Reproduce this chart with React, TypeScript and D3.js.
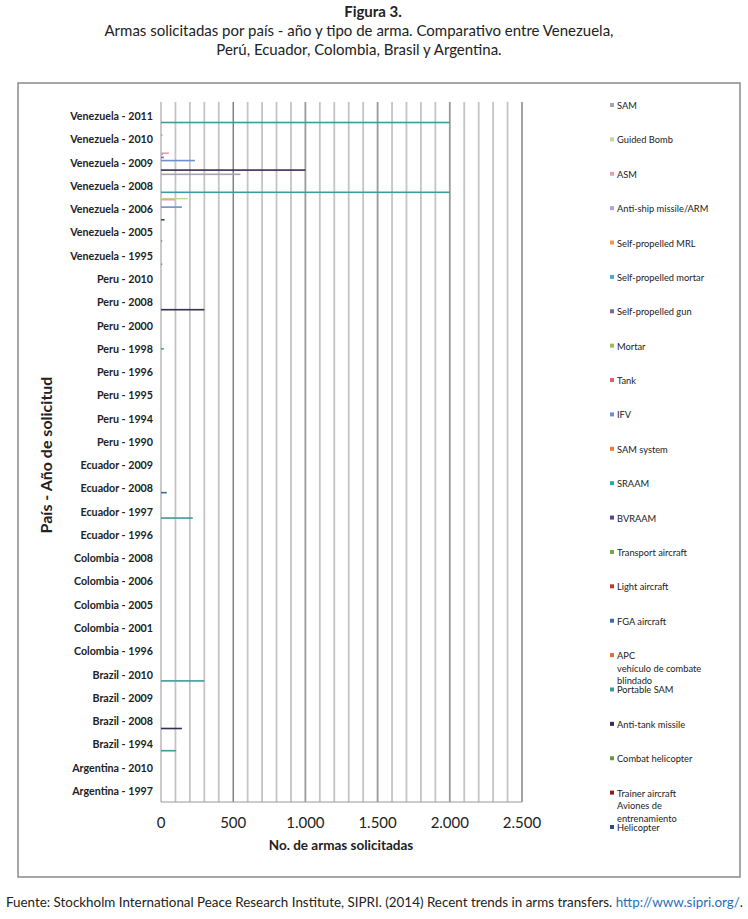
import React from "react";
import * as d3 from "d3";

const categories = [
  "Venezuela - 2011", "Venezuela - 2010", "Venezuela - 2009", "Venezuela - 2008",
  "Venezuela - 2006", "Venezuela - 2005", "Venezuela - 1995",
  "Peru - 2010", "Peru - 2008", "Peru - 2000", "Peru - 1998", "Peru - 1996",
  "Peru - 1995", "Peru - 1994", "Peru - 1990",
  "Ecuador - 2009", "Ecuador - 2008", "Ecuador - 1997", "Ecuador - 1996",
  "Colombia - 2008", "Colombia - 2006", "Colombia - 2005", "Colombia - 2001", "Colombia - 1996",
  "Brazil - 2010", "Brazil - 2009", "Brazil - 2008", "Brazil - 1994",
  "Argentina - 2010", "Argentina - 1997",
];

const weapons = [
  "SAM", "Guided Bomb", "ASM", "Anti-ship missile/ARM", "Self-propelled MRL",
  "Self-propelled mortar", "Self-propelled gun", "Mortar", "Tank", "IFV",
  "SAM system", "SRAAM", "BVRAAM", "Transport aircraft", "Light aircraft",
  "FGA aircraft", "APC\nvehículo de combate\nblindado", "Portable SAM",
  "Anti-tank missile", "Combat helicopter",
  "Trainer aircraft\nAviones de\nentrenamiento", "Helicopter",
];

const weaponColors = [
  "#a6a6a6", "#c4d79b", "#e6a0b0", "#b3a2d7", "#f79646",
  "#4bacc6", "#7f64a2", "#9bbb59", "#e0606a", "#6f8fce",
  "#f07a30", "#2aa7a7", "#5b4390", "#77a540", "#c0392b",
  "#3a6ea5", "#e46c3a", "#3f9a9a", "#3a2d50", "#6a9a3a",
  "#8b1a1a", "#2b4f81",
];

// [category, weapon, number requested]
const orders: [string, string, number][] = [
  ["Venezuela - 2011", "Portable SAM", 2000],
  ["Venezuela - 2010", "Mortar", 10],
  ["Venezuela - 2009", "ASM", 55],
  ["Venezuela - 2009", "Anti-ship missile/ARM", 15],
  ["Venezuela - 2009", "Self-propelled gun", 20],
  ["Venezuela - 2009", "IFV", 235],
  ["Venezuela - 2009", "Anti-tank missile", 1000],
  ["Venezuela - 2008", "SAM", 550],
  ["Venezuela - 2008", "Portable SAM", 2000],
  ["Venezuela - 2006", "Guided Bomb", 185],
  ["Venezuela - 2006", "ASM", 100],
  ["Venezuela - 2006", "IFV", 145],
  ["Venezuela - 2006", "Helicopter", 25],
  ["Venezuela - 2005", "Combat helicopter", 8],
  ["Venezuela - 1995", "Combat helicopter", 8],
  ["Peru - 2008", "Anti-tank missile", 300],
  ["Peru - 1998", "SRAAM", 20],
  ["Ecuador - 2008", "FGA aircraft", 40],
  ["Ecuador - 1997", "Portable SAM", 220],
  ["Brazil - 2010", "Portable SAM", 300],
  ["Brazil - 2008", "Anti-tank missile", 145],
  ["Brazil - 1994", "Portable SAM", 105],
];

const xTicks = [0, 500, 1000, 1500, 2000, 2500];

const W = 748;
const H = 919;
const plot = { left: 161, right: 522, top: 104, bottom: 802 };
const FONT = "Lato, 'Open Sans', 'DejaVu Sans', sans-serif";

export default function App() {
  const x = d3.scaleLinear().domain([0, 2500]).range([plot.left, plot.right]);
  const y = d3.scaleBand<string>().domain(categories).range([plot.top, plot.bottom]).padding(0);
  const ys = d3.scaleBand<string>().domain(weapons).range([0, y.bandwidth()]).padding(0);
  const color = d3.scaleOrdinal<string, string>().domain(weapons).range(weaponColors);
  const fmt = (v: number) => d3.format(",")(v).replace(/,/g, ".");
  const grid = d3.range(0, 2501, 100);
  const legendY = d3.scalePoint<string>().domain(weapons).range([106, 828]);
  const barH = Math.max(ys.bandwidth(), 1.6);

  return (
    <svg width={W} height={H} style={{ position: "absolute", left: 0, top: 0, background: "#fff" }} fontFamily={FONT}>
      <text x={373} y={17} textAnchor="middle" fontWeight="bold" fontSize={15} fill="#222">Figura 3.</text>
      <text x={359} y={36} textAnchor="middle" fontSize={15} fill="#222">
        Armas solicitadas por país - año y tipo de arma. Comparativo entre Venezuela,
      </text>
      <text x={359} y={55} textAnchor="middle" fontSize={15} fill="#222">
        Perú, Ecuador, Colombia, Brasil y Argentina.
      </text>

      <rect x={18} y={83} width={722} height={794} fill="none" stroke="#8a8a8a" strokeWidth={1.5} />

      {grid.map((g) => (
        <line key={g} x1={x(g)} x2={x(g)} y1={plot.top - 2} y2={plot.bottom}
          stroke={g === 500 ? "#444" : g % 500 === 0 && g > 0 ? "#9a9a9a" : "#c4c4c4"}
          strokeWidth={g === 500 ? 1 : 1.8} />
      ))}
      <line x1={plot.left} x2={plot.right} y1={plot.bottom} y2={plot.bottom} stroke="#999" strokeWidth={1.2} />

      {orders.map(([c, w, v], i) => (
        <rect key={i} x={x(0)} y={(y(c) as number) + (ys(w) as number) + ys.bandwidth() / 2 - barH / 2}
          width={x(v) - x(0)} height={barH} fill={color(w)} />
      ))}

      {categories.map((c) => (
        <text key={c} x={153} y={(y(c) as number) + y.bandwidth() / 2 + 4.5} textAnchor="end"
          fontSize={10.7} fontWeight="bold" fill="#222">{c}</text>
      ))}

      {xTicks.map((t) => (
        <text key={t} x={x(t)} y={828} textAnchor="middle" fontSize={15} fill="#222">{fmt(t)}</text>
      ))}
      <text x={341} y={850} textAnchor="middle" fontSize={13.5} fontWeight="bold" fill="#222">No. de armas solicitadas</text>

      <text transform={`translate(52,455) rotate(-90)`} textAnchor="middle" fontSize={16} fontWeight="bold" fill="#222">
        País - Año de solicitud
      </text>

      {weapons.map((w) => {
        const yy = legendY(w) as number;
        const lines = w.split("\n");
        return (
          <g key={w}>
            <rect x={610} y={yy - 3} width={4} height={4} fill={color(w)} />
            {lines.map((l, k) => (
              <text key={k} x={617} y={yy + 3 + k * 12.5} fontSize={9.3} fill="#222">{l}</text>
            ))}
          </g>
        );
      })}

      <text x={6} y={907} fontSize={13.4} fill="#222">
        Fuente: Stockholm International Peace Research Institute, SIPRI. (2014) Recent trends in arms transfers.{" "}
        <tspan fill="#1f6fb8">http://www.sipri.org/</tspan>.
      </text>
    </svg>
  );
}
